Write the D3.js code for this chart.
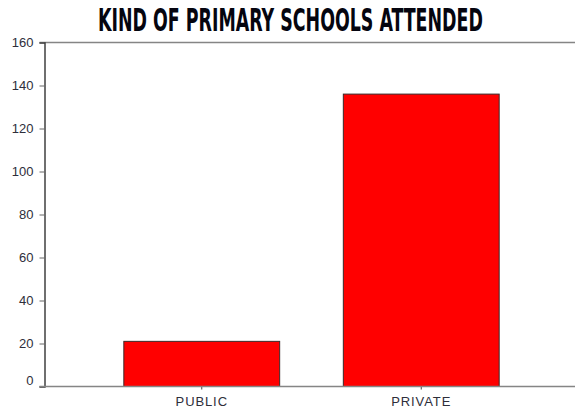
<!DOCTYPE html>
<html>
<head>
<meta charset="utf-8">
<script src="https://cdn.jsdelivr.net/npm/d3@7"></script>
<style>
  body { margin: 0; background: #fff; }
  .axis text { font-family: "Liberation Sans", Arial, sans-serif; font-size: 13px; fill: #2e2e3a; }
</style>
</head>
<body>
<div id="chart"></div>
<script>
var categories = ["PUBLIC", "PRIVATE"];
var counts = [21, 136];
var yTicks = [0, 20, 40, 60, 80, 100, 120, 140, 160];
var title = "KIND OF PRIMARY SCHOOLS ATTENDED";

var width = 575, height = 410;
var plot = {left: 44.5, right: 575, top: 42.5, bottom: 386.5};

var svg = d3.select("#chart").append("svg")
    .attr("width", width)
    .attr("height", height);

// scales
var x = d3.scaleBand()
    .domain(categories)
    .range([92, 531])
    .paddingInner(0.29)
    .paddingOuter(0.145);

var y = d3.scaleLinear()
    .domain([0, 160])
    .range([plot.bottom, plot.top]);

// top frame line
svg.append("line")
    .attr("x1", plot.left - 5).attr("x2", plot.right)
    .attr("y1", plot.top).attr("y2", plot.top)
    .attr("stroke", "#858585")
    .attr("stroke-width", 1.5);

// bars
svg.selectAll(".bar")
    .data(counts)
    .enter().append("rect")
    .attr("class", "bar")
    .attr("x", function(d, i) { return x(categories[i]); })
    .attr("width", x.bandwidth())
    .attr("y", function(d) { return y(d); })
    .attr("height", function(d) { return y(0) - y(d); })
    .attr("fill", "#ff0000")
    .attr("stroke", "#3a2a2a")
    .attr("stroke-width", 1);

// y axis
var yAxis = svg.append("g")
    .attr("class", "axis")
    .attr("transform", "translate(" + plot.left + ",0)")
    .call(d3.axisLeft(y).tickValues(yTicks).tickSize(5).tickPadding(6));
yAxis.select(".domain").attr("stroke", "#333").attr("stroke-width", 1.4);
yAxis.selectAll(".tick line").attr("stroke", "#666");
yAxis.selectAll(".tick text")
    .attr("dy", function(d) { return d === 0 ? "-0.15em" : "0.32em"; });

// x axis
var xAxis = svg.append("g")
    .attr("class", "axis")
    .attr("transform", "translate(0," + plot.bottom + ")")
    .call(d3.axisBottom(x).tickSize(3).tickPadding(7));
xAxis.select(".domain").remove();
xAxis.selectAll(".tick line").attr("stroke", "#444");
xAxis.selectAll(".tick text").style("letter-spacing", "0.9px");
svg.append("line")
    .attr("x1", plot.left - 5).attr("x2", plot.right)
    .attr("y1", plot.bottom).attr("y2", plot.bottom)
    .attr("stroke", "#858585")
    .attr("stroke-width", 1.5);

// title: squeeze horizontally to the condensed look
var titleText = svg.append("text")
    .attr("x", 0)
    .attr("y", 0)
    .style("font-family", "'Liberation Sans Narrow', 'DejaVu Sans Condensed', 'Liberation Sans', sans-serif")
    .style("font-weight", "bold")
    .style("font-size", "32px")
    .style("fill", "#05050f")
    .text(title);
var natural = titleText.node().getComputedTextLength();
var sx = 385 / natural;
titleText.attr("transform", "translate(98,31) scale(" + sx + ",1)");
</script>
</body>
</html>
